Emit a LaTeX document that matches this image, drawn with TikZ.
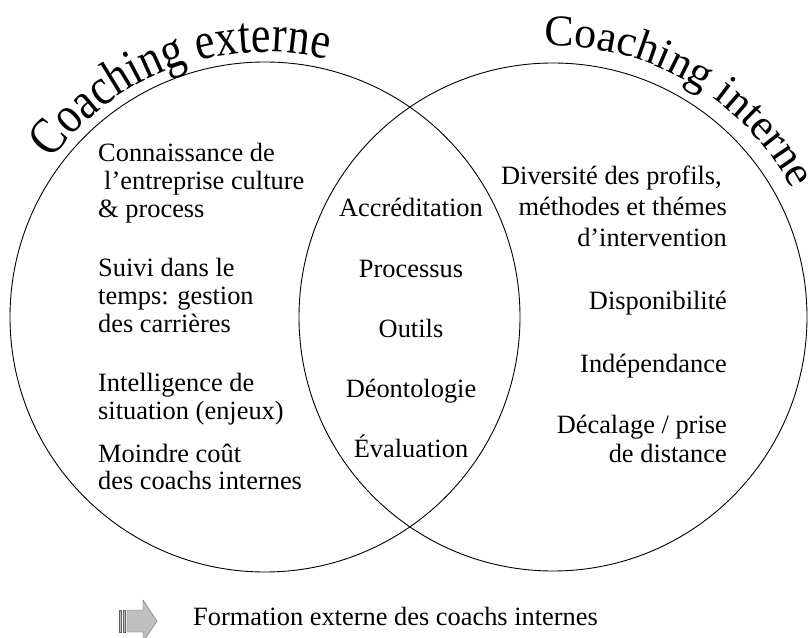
\documentclass[tikz,border=0pt]{standalone}
\usepackage{fontspec}
\setmainfont{Liberation Serif}
\newfontfamily\titlefont[FakeStretch=0.85]{Liberation Serif}
\usetikzlibrary{decorations.text}
\begin{document}
\begin{tikzpicture}[x=1pt,y=1pt,
  body/.style={font=\fontsize{26.4}{28}\selectfont, inner sep=0pt},
  lft/.style={body, anchor=base west},
  mid/.style={body, anchor=base},
  rgt/.style={body, anchor=base east},
  ring/.style={draw, circle, inner sep=0pt, line width=0.9pt},
  arrowfill/.style={fill=gray!50, draw=gray!75!black, line width=0.4pt},
]
\useasboundingbox (0,0) rectangle (810,637);
% circles
\node[ring, minimum size=510pt] (L) at (265,320) {};
\node[ring, minimum size=508pt] (R) at (553,320) {};
% curved titles
\path[decorate, decoration={text along path, text align=center,
  text={|\titlefont\fontsize{52}{52}\selectfont|Coaching externe}}]
  (L.center) ++(160:265) arc[start angle=160, end angle=60, radius=265];
\path[decorate, decoration={text along path, text align=center,
  text={|\fontsize{44}{44}\selectfont|Coaching interne}}]
  (R.center) ++(120:271) arc[start angle=120, end angle=0, radius=271];
% left column
\node[lft] (c1) at (98,475) {Connaissance de};
\node[lft] (c2) at (104,447) {l’entreprise culture};
\node[lft] (c3) at (98,419) {\& process};
\node[lft] (s1) at (98,360) {Suivi dans le};
\node[lft] (s2) at (98,332) {temps: gestion};
\node[lft] (s3) at (98,304) {des carrières};
\node[lft] (i1) at (98,245) {Intelligence de};
\node[lft] (i2) at (98,217) {situation (enjeux)};
\node[lft] (m1) at (98,174) {Moindre coût};
\node[lft] (m2) at (98,148) {des coachs internes};
% middle column
\node[mid] (a1) at (411,420) {Accréditation};
\node[mid] (a2) at (411,359) {Processus};
\node[mid] (a3) at (411,299) {Outils};
\node[mid] (a4) at (411,239) {Déontologie};
\node[mid] (a5) at (411,179) {Évaluation};
% right column
\node[rgt] (d1) at (722,452) {Diversité des profils,};
\node[rgt] (d2) at (727,421) {méthodes et thémes};
\node[rgt] (d3) at (727,390) {d’intervention};
\node[rgt] (d4) at (727,327) {Disponibilité};
\node[rgt] (d5) at (727,264) {Indépendance};
\node[rgt] (d6) at (727,203) {Décalage / prise};
\node[rgt] (d7) at (727,175) {de distance};
% bottom legend
\fill[arrowfill] (119,5) rectangle (121,27);
\fill[arrowfill] (123,5) rectangle (125,27);
\filldraw[arrowfill] (127,5) -- (143,5) -- (143,-5) -- (157,16) -- (143,37) -- (143,27) -- (127,27) -- cycle;
\node[lft] (f) at (193,12) {Formation externe des coachs internes};
\end{tikzpicture}
\end{document}
